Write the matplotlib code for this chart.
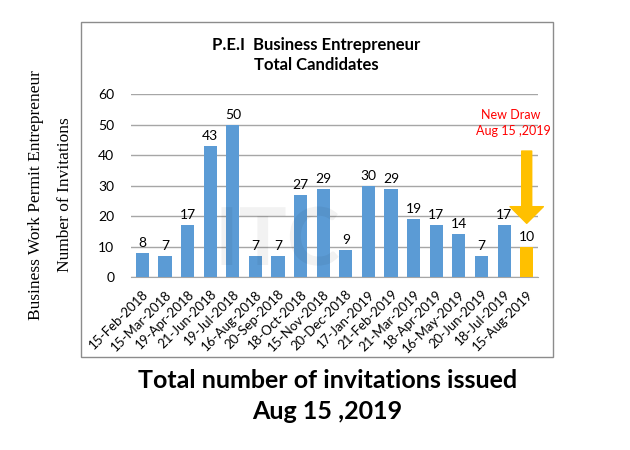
import matplotlib.pyplot as plt
from matplotlib.patches import Rectangle, PathPatch
from matplotlib.textpath import TextPath
from matplotlib.font_manager import FontProperties
from matplotlib.transforms import Affine2D

# data
dates = ['15-Feb-2018', '15-Mar-2018', '19-Apr-2018', '21-Jun-2018', '19-Jul-2018',
         '16-Aug-2018', '20-Sep-2018', '18-Oct-2018', '15-Nov-2018', '20-Dec-2018',
         '17-Jan-2019', '21-Feb-2019', '21-Mar-2019', '18-Apr-2019', '16-May-2019',
         '20-Jun-2019', '18-Jul-2019', '15-Aug-2019']
invites = [8, 7, 17, 43, 50, 7, 7, 27, 29, 9, 30, 29, 19, 17, 14, 7, 17, 10]
yticks = [0, 10, 20, 30, 40, 50, 60]

blue = '#5B9BD5'
gold = '#FFC000'
colors = [blue] * (len(invites) - 1) + [gold]

fig = plt.figure(figsize=(6.3, 4.5), dpi=100)
ax = fig.add_axes([0.208, 0.3844, 0.646, 0.4067])

# outer chart border
fig.patches.append(Rectangle((0.1286, 0.2067), 0.749, 0.744, transform=fig.transFigure,
                             fill=False, edgecolor='#8c8c8c', linewidth=1.0))

# faint watermark logo (drawn as a shape, in pixels)
wm = TextPath((0, 0), 'ITC', size=80, prop=FontProperties(family='Lato', weight='bold'))
wm_tr = Affine2D().translate(215, 185)
fig.patches.append(PathPatch(wm_tr.transform_path(wm), transform=None,
                             facecolor='#000000', edgecolor='none', alpha=0.05, zorder=0))

x = list(range(len(invites)))
ax.bar(x, invites, width=0.58, color=colors, zorder=3)

for i, v in enumerate(invites):
    ax.text(i, v + 1.3, str(v), ha='center', va='bottom', fontsize=10, family='Lato')

ax.set_xlim(-0.5, len(invites) - 0.5)
ax.set_ylim(0, 60)
ax.set_yticks(yticks)
ax.set_yticklabels([str(t) for t in yticks], family='Lato', fontsize=10)
ax.set_xticks(x)
ax.set_xticklabels(dates, rotation=45, ha='right', rotation_mode='anchor',
                   family='Lato', fontsize=9.5)
ax.tick_params(length=0, pad=8)
ax.tick_params(axis='y', pad=12)
ax.grid(axis='y', color='#a6a6a6', linewidth=1, zorder=0)
for s in ['top', 'right', 'left']:
    ax.spines[s].set_visible(False)
ax.spines['bottom'].set_color('#a6a6a6')
ax.patch.set_alpha(0)

# arrow to new draw
last = len(invites) - 1
ax.annotate('', xy=(last, 17.6), xytext=(last, 41.3),
            arrowprops=dict(arrowstyle='simple,head_length=1.0,head_width=2.0,tail_width=0.6',
                            color=gold, mutation_scale=12, shrinkA=0, shrinkB=0), zorder=4)
ax.text(16.3, 53, 'New Draw', color='red', ha='center', va='center', fontsize=9, family='Lato')
ax.text(16.4, 48, 'Aug 15 ,2019', color='red', ha='center', va='center', fontsize=9, family='Lato')

fig.text(0.502, 0.877, 'P.E.I  Business Entrepreneur\nTotal Candidates', ha='center', va='center',
         fontsize=12, fontweight='bold', family='Lato', linespacing=1.3)

fig.text(0.057, 0.567, 'Business Work Permit Entrepreneur', rotation=90, ha='center', va='center',
         fontsize=12.5, family='Liberation Serif')
fig.text(0.103, 0.567, 'Number of Invitations', rotation=90, ha='center', va='center',
         fontsize=12.5, family='Liberation Serif')

fig.text(0.52, 0.12, 'Total number of invitations issued\nAug 15 ,2019', ha='center', va='center',
         fontsize=18, fontweight='bold', family='Lato', linespacing=1.4)

plt.savefig('out.png', dpi=100)
